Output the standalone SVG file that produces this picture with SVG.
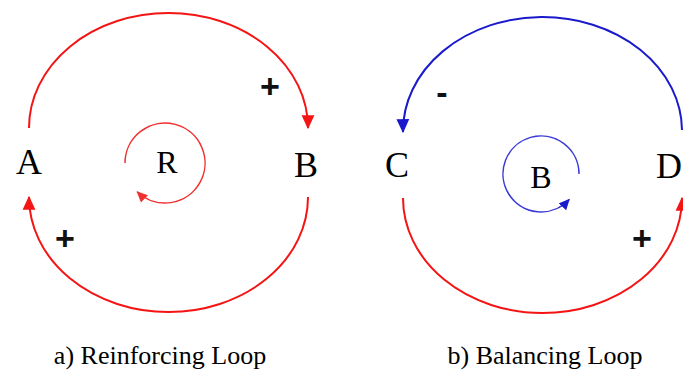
<svg xmlns="http://www.w3.org/2000/svg" width="683" height="371" viewBox="0 0 683 371">
<defs>
<style>
.red{fill:none;stroke:#f41414;stroke-width:2}
.blue{fill:none;stroke:#1a1acc;stroke-width:2}
.sred{fill:none;stroke:#f03030;stroke-width:1.5}
.sblue{fill:none;stroke:#3a3ad8;stroke-width:1.5}
.lbl{font-family:"Liberation Serif","Times New Roman",serif;fill:#000;text-anchor:middle}
.node{font-size:36px}
.inner{font-size:32px}
.cap{font-size:26px}
.sign{font-family:"Liberation Sans",Arial,sans-serif;font-weight:bold;fill:#111;text-anchor:middle;font-size:34px}
</style>
<marker id="ar" markerUnits="userSpaceOnUse" markerWidth="14" markerHeight="14" viewBox="0 0 12 12" refX="11" refY="6" orient="auto"><path d="M0,0.5 L12,6 L0,11.5 Z" fill="#f41414"/></marker>
<marker id="ab" markerUnits="userSpaceOnUse" markerWidth="14" markerHeight="14" viewBox="0 0 12 12" refX="11" refY="6" orient="auto"><path d="M0,0.5 L12,6 L0,11.5 Z" fill="#1a1acc"/></marker>
<marker id="sar" markerUnits="userSpaceOnUse" markerWidth="11" markerHeight="11" viewBox="0 0 12 12" refX="11" refY="6" orient="auto"><path d="M0,0.5 L12,6 L0,11.5 Z" fill="#f03030"/></marker>
<marker id="sab" markerUnits="userSpaceOnUse" markerWidth="11" markerHeight="11" viewBox="0 0 12 12" refX="11" refY="6" orient="auto"><path d="M0,0.5 L12,6 L0,11.5 Z" fill="#1a1acc"/></marker>
</defs>
<rect width="683" height="371" fill="#fff"/>
<g id="connectors">
<path class="red" d="M29,128 A139.5,115 0 0 1 308,128" marker-end="url(#ar)"/>
<path class="red" d="M308,197 A139.5,115 0 0 1 29,197" marker-end="url(#ar)"/>
<path class="blue" d="M682,130 A139.5,114 0 0 0 403,132" marker-end="url(#ab)"/>
<path class="red" d="M403,198 A139.5,115 0 0 0 682,198" marker-end="url(#ar)"/>
<path class="sred" d="M125,163 A40,40 0 1 1 137.2,191.8" marker-end="url(#sar)"/>
<path class="sblue" d="M579,174 A38,38 0 1 0 569.2,199.4" marker-end="url(#sab)"/>
</g>
<g id="node-A"><text class="lbl node" x="29" y="174">A</text></g>
<g id="node-B"><text class="lbl node" x="306" y="177">B</text></g>
<g id="node-C"><text class="lbl node" x="397" y="177">C</text></g>
<g id="node-D"><text class="lbl node" x="669" y="178">D</text></g>
<g id="loop-R"><text class="lbl inner" x="167" y="173">R</text></g>
<g id="loop-B"><text class="lbl inner" x="541" y="188">B</text></g>
<g id="signs">
<text class="sign" x="270" y="98">+</text>
<text class="sign" x="65" y="250">+</text>
<text class="sign" x="442" y="104">-</text>
<text class="sign" x="642" y="250">+</text>
</g>
<g id="captions">
<text class="lbl cap" x="160" y="364">a) Reinforcing Loop</text>
<text class="lbl cap" x="545" y="364">b) Balancing Loop</text>
</g>
</svg>
